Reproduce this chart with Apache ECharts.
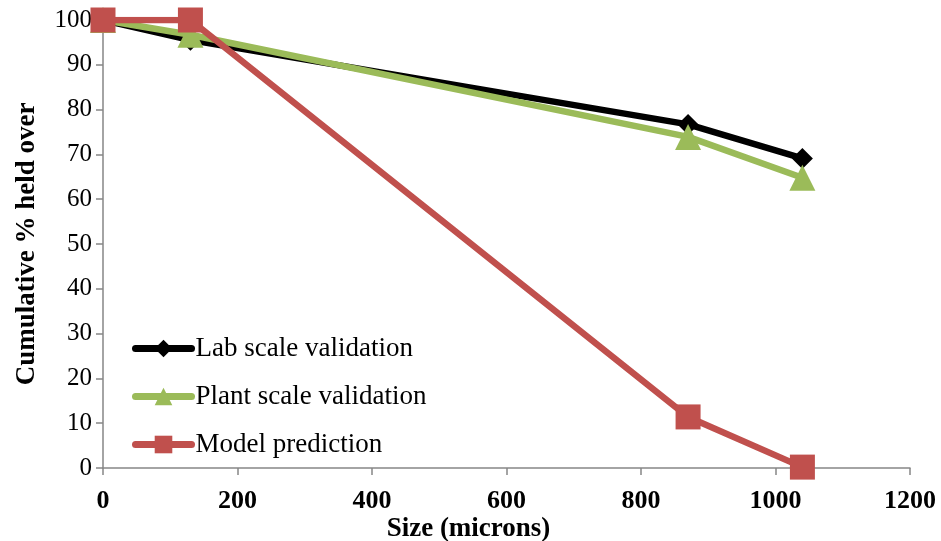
<!DOCTYPE html>
<html><head><meta charset="utf-8">
<script src="https://cdn.jsdelivr.net/npm/echarts@6/dist/echarts.min.js"></script>
<style>html,body{margin:0;padding:0;background:#fff}#c{width:941px;height:541px}</style>
</head><body><div id="c"></div>
<script>
var sizes = [0, 130, 870, 1040];
var labScale = [100, 95.5, 76.7, 69.1];
var plantScale = [100, 96.7, 73.9, 64.8];
var modelPred = [100, 100, 11.4, 0.2];
var xTicks = [0, 200, 400, 600, 800, 1000, 1200];
var yTicks = [0, 10, 20, 30, 40, 50, 60, 70, 80, 90, 100];

function pairs(v){ return sizes.map(function(x,i){ return [x, v[i]]; }); }
var F = '"Liberation Serif","Times New Roman",serif';
var chart = echarts.init(document.getElementById('c'));
chart.setOption({
  animation: false,
  grid: {left: 103, right: 31, top: 20, bottom: 73, containLabel: false, outerBoundsMode: 'none'},
  xAxis: {
    type: 'value', min: xTicks[0], max: xTicks[xTicks.length-1], interval: 200,
    name: 'Size (microns)', nameLocation: 'middle', nameGap: 48, nameMoveOverlap: false,
    nameTextStyle: {fontFamily: F, fontSize: 27, fontWeight: 'bold', color: '#000', padding: [0, 76, 0, 0]},
    axisLine: {show: true, lineStyle: {color: '#868686', width: 1.5}},
    axisTick: {show: true, length: 7, inside: false, lineStyle: {color: '#868686', width: 1.5}},
    axisLabel: {fontFamily: F, fontSize: 26, fontWeight: 'bold', color: '#000', margin: 20,
      formatter: function(v){ return String(v); }},
    splitLine: {show: false}
  },
  yAxis: {
    type: 'value', min: yTicks[0], max: yTicks[yTicks.length-1], interval: 10,
    name: 'Cumulative % held over', nameLocation: 'middle', nameGap: 62, nameMoveOverlap: false,
    nameTextStyle: {fontFamily: F, fontSize: 27, fontWeight: 'bold', color: '#000'},
    axisLine: {show: true, lineStyle: {color: '#868686', width: 1.5}},
    axisTick: {show: true, length: 7, lineStyle: {color: '#868686', width: 1.5}},
    axisLabel: {fontFamily: F, fontSize: 25, color: '#000', margin: 11,
      formatter: function(v){ return String(v); }},
    splitLine: {show: false}
  },
  legend: {
    left: 127, top: 330, orient: 'vertical', itemWidth: 56, itemHeight: 22, itemGap: 21,
    lineStyle: {width: 7, cap: 'round'},
    textStyle: {fontFamily: F, fontSize: 27, color: '#000', padding: [0,0,0,-1]},
    data: ['Lab scale validation', 'Plant scale validation', 'Model prediction']
  },
  series: [
    {name: 'Lab scale validation', type: 'line', data: pairs(labScale), symbol: 'diamond', symbolSize: 21,
     lineStyle: {color: '#000', width: 6.5}, itemStyle: {color: '#000'}, z: 2},
    {name: 'Plant scale validation', type: 'line', data: pairs(plantScale), symbol: 'triangle', symbolSize: 26,
     lineStyle: {color: '#9BBB59', width: 6.5}, itemStyle: {color: '#9BBB59'}, z: 3},
    {name: 'Model prediction', type: 'line', data: pairs(modelPred), symbol: 'rect', symbolSize: 25,
     lineStyle: {color: '#C0504D', width: 6.5}, itemStyle: {color: '#C0504D'}, z: 4}
  ]
});
</script></body></html>
